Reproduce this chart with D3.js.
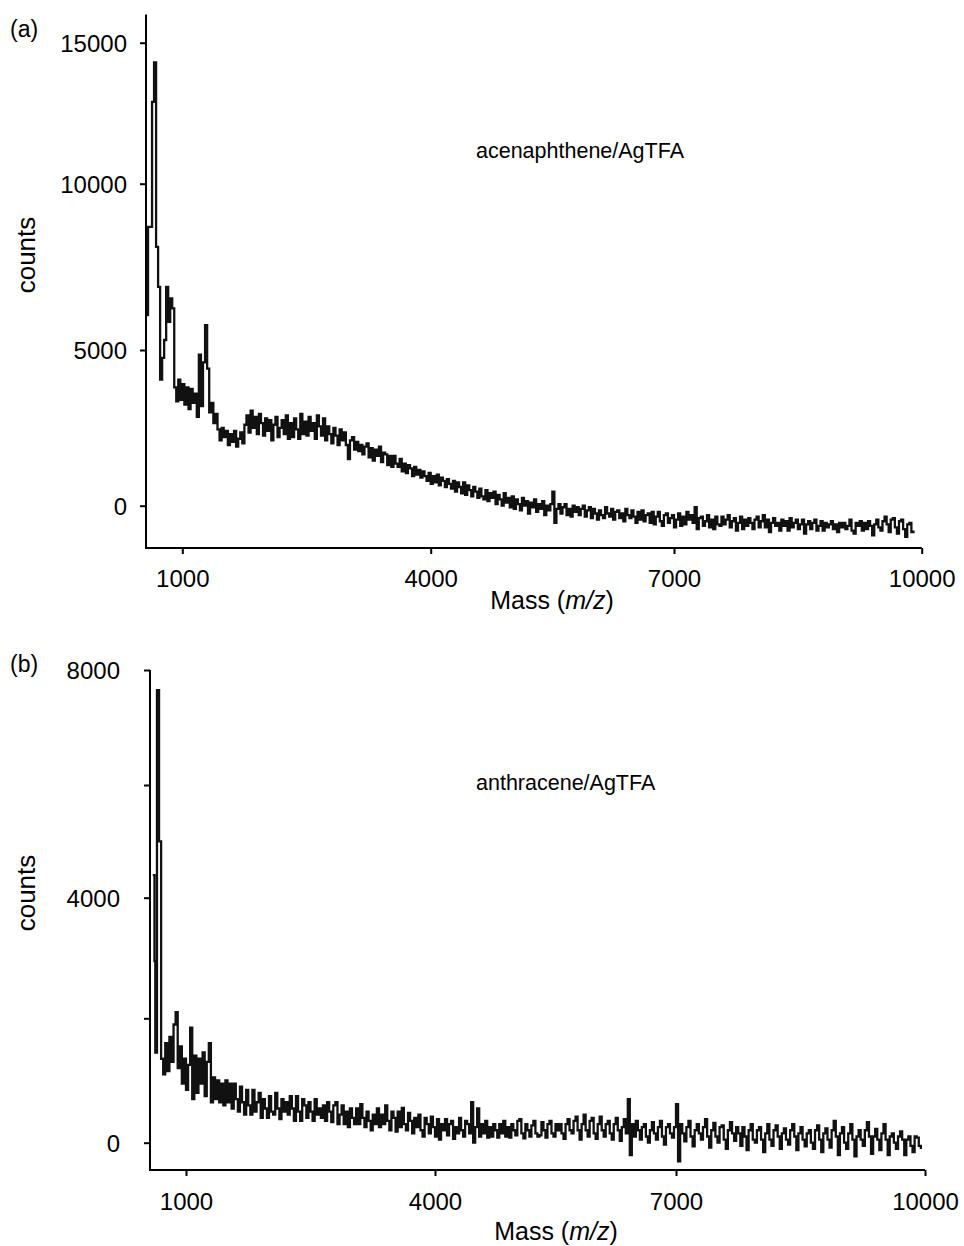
<!DOCTYPE html>
<html>
<head>
<meta charset="utf-8">
<script src="https://cdnjs.cloudflare.com/ajax/libs/d3/7.8.5/d3.min.js"></script>
<style>
  body { margin: 0; background: #fff; }
  svg text { font-family: "Liberation Sans", Arial, Helvetica, sans-serif; fill: #000; }
</style>
</head>
<body>
<div class="chart"></div>
<script>
"use strict";

// (a) acenaphthene/AgTFA -- peaks listed by mass, the rest read every 25 m/z from 1550
var peakMassA = [550,575,600,625,650,675,700,725,750,775,800,825,850,875,900,925,950,975,1000,1025,
                 1050,1075,1100,1125,1150,1175,1200,1225,1250,1275,1300,1325,1350,1375,1400,1425,1450,1475,1500,1525];
var peakCountA = [6050,8700,8700,12900,14300,8100,6900,4050,4750,5300,6900,5850,6550,6250,3800,3350,4050,3400,3900,3250,
                  3800,3100,3750,3300,3600,2850,4850,3200,4600,5750,4400,3000,3300,2650,2950,2450,2100,2500,2200,2400];
var bandStartA = 1550, bandStepA = 25;
var bandCountA = [
  1950,2300,2050,2400,1900,2150,2350,2000,2600,2900,
  2350,3050,2500,2850,2300,2950,2650,2250,2800,2400,
  2750,2100,2600,2850,2200,2500,2750,2300,2900,2150,
  2650,2200,2800,2450,2150,2950,2300,2700,2250,2850,
  2400,2650,2150,2900,2550,2250,2800,2100,2550,2300,
  2000,2500,2250,1950,2450,2100,2350,1950,1500,2100,
  2200,1800,2050,1750,1950,1650,1900,2000,1550,1850,
  1450,1800,1600,1900,1400,1700,1650,1300,1600,1250,
  1600,1350,1250,1500,1100,1350,1050,1300,1200,950,
  1250,1000,1150,900,1100,950,800,1050,700,950,
  750,1000,650,900,800,600,850,700,550,800,
  450,750,600,400,750,350,650,500,300,600,
  450,250,550,300,200,500,150,400,250,450,
  50,350,200,0,400,100,250,-50,300,-100,
  200,50,-150,250,0,150,-250,100,-50,200,
  -200,50,-100,150,-300,0,-150,50,450,-550,
  -100,50,-250,-50,50,-300,-100,-350,0,-200,
  -50,-300,-100,0,-350,-150,-50,-400,-100,-250,
  -450,-150,-300,-400,-50,-250,-350,-100,-450,-200,
  -150,-400,-250,-500,-100,-300,-400,-150,-350,-550,
  -200,-450,-150,-500,-300,-250,-550,-200,-600,-350,
  -200,-500,-650,-300,-250,-550,-400,-300,-700,-450,
  -250,-650,-350,-600,-200,-450,-300,-550,-50,-750,
  -400,-350,-650,-500,-300,-700,-450,-750,-350,-600,
  -650,-350,-600,-450,-300,-700,-500,-400,-800,-550,
  -350,-750,-450,-650,-400,-550,-750,-450,-350,-700,
  -500,-300,-700,-450,-850,-550,-400,-650,-550,-800,
  -450,-650,-500,-800,-400,-700,-550,-450,-750,-600,
  -450,-900,-600,-500,-750,-550,-450,-800,-650,-500,
  -800,-550,-700,-600,-500,-750,-600,-850,-550,-700,
  -550,-750,-650,-450,-800,-900,-550,-650,-500,-800,
  -550,-750,-500,-650,-950,-600,-450,-700,-800,-500,
  -350,-600,-850,-450,-400,-700,-900,-500,-450,-750,
  -1000,-600,-550,-850,-800];

// (b) anthracene/AgTFA
var peakMassB = [600,620,630,650,675,700,725,750,775,800,825,850,875,900,925,950,975,1000,1025,
                 1050,1075,1100,1125,1150,1175,1200,1225,1250,1275,1300,1325,1350,1375,1400,1425,1450,1475,1500,1525];
var peakCountB = [4400,2950,1450,7650,5000,1350,1100,1600,1150,1700,1300,1900,2100,1200,1550,950,1350,850,1250,
                  1850,700,1400,800,1350,950,1450,750,1300,1600,650,1050,700,1000,650,950,600,1000,650,950];
var bandStartB = 1550, bandStepB = 25;
var bandCountB = [
  550,950,700,500,900,650,450,850,600,450,
  850,500,650,800,400,700,550,400,750,500,
  450,800,550,380,700,500,650,450,750,550,
  350,750,500,350,700,600,400,650,500,350,
  700,450,550,400,600,350,650,500,330,600,
  650,300,450,600,300,500,250,550,400,300,
  550,300,620,400,250,500,350,200,450,300,
  550,250,450,300,600,350,200,500,400,180,
  500,250,560,300,200,480,350,150,400,250,
  450,200,100,400,300,150,420,250,100,380,
  50,300,200,380,120,300,350,60,250,150,
  400,200,100,350,300,150,650,0,250,550,
  100,300,150,350,80,250,100,300,200,80,
  300,150,350,100,250,80,300,200,120,350,
  380,150,70,300,200,100,280,350,150,100,
  120,330,200,80,300,350,150,100,300,200,
  300,150,60,300,380,200,150,350,420,200,
  50,300,450,200,100,350,400,150,60,300,
  420,200,100,300,350,150,50,300,400,200,
  30,250,380,150,700,-200,300,100,350,200,
  50,250,300,100,0,200,330,150,50,250,
  350,100,-30,250,300,150,80,250,620,-300,
  300,150,20,250,350,100,-60,200,300,150,
  50,250,380,100,-80,200,320,100,0,250,
  280,50,-100,200,330,150,30,250,150,-50,
  250,100,-120,200,300,50,0,200,250,50,
  -150,150,300,50,-50,200,280,100,-100,150,
  230,50,-30,200,300,100,-120,150,250,50,
  -60,150,200,0,-100,200,280,50,-150,150,
  230,50,-80,200,350,100,-200,150,250,0,
  -100,150,300,50,-220,100,200,50,-50,200,
  330,100,-180,100,220,50,-120,150,300,50,
  -200,100,150,0,-100,100,180,50,-200,50,
  100,-50,-150,100,80,-50,-100];

var xTicks = [1000, 4000, 7000, 10000];

var width = 964,
    height = 1246;

var svg = d3.select(".chart")
          .append("svg")
          .attr("width", width)
          .attr("height", height);

function drawPanel(p) {
  var x = d3.scaleLinear().domain(p.xDomain).range(p.xRange);
  var y = d3.scaleLinear().domain(p.yDomain).range(p.yRange);

  var pts = p.peakMass.map(function(m, i){ return [m, p.peakCount[i]]; })
    .concat(p.bandCount.map(function(c, i){ return [p.bandStart + i * p.bandStep, c]; }));

  var g = svg.append("g");

  // spectrum
  g.append("path")
      .datum(pts)
      .attr("fill", "none")
      .attr("stroke", "#111")
      .attr("stroke-width", 2.3)
      .attr("d", d3.line()
          .curve(d3.curveStepAfter)
          .x(function(d){ return x(d[0]); })
          .y(function(d){ return y(d[1]); }));

  var x0 = p.xDomain[0], x1 = p.xDomain[p.xDomain.length - 1],
      y0 = p.yDomain[0], y1 = p.yDomain[p.yDomain.length - 1];

  // frame lines
  g.append("line")
      .attr("x1", x(x0)).attr("x2", x(x0))
      .attr("y1", y(y0)).attr("y2", y(y1))
      .attr("stroke", "#000").attr("stroke-width", 2);
  g.append("line")
      .attr("x1", x(x0) - 1).attr("x2", x(x1))
      .attr("y1", y(y0)).attr("y2", y(y0))
      .attr("stroke", "#000").attr("stroke-width", 2);

  var yAxis = g.append("g")
      .attr("transform", "translate(" + x(x0) + ",0)")
      .call(d3.axisLeft(y)
          .tickValues(p.yTicks)
          .tickSize(6)
          .tickPadding(p.yPad)
          .tickFormat(function(d){ return p.yLabels.indexOf(d) >= 0 ? d : ""; }));

  var xAxis = g.append("g")
      .attr("transform", "translate(0," + y(y0) + ")")
      .call(d3.axisBottom(x)
          .tickValues(xTicks)
          .tickSize(6)
          .tickPadding(p.xPad)
          .tickFormat(d3.format("d")));

  [yAxis, xAxis].forEach(function(a){
    a.attr("font-family", null).attr("font-size", null);
    a.select(".domain").remove();
    a.selectAll(".tick line").attr("stroke", "#000").attr("stroke-width", 2);
    a.selectAll(".tick text").style("font-size", "24px").attr("fill", "#000");
  });
  yAxis.selectAll(".tick text").attr("dy", "0.36em");

  g.append("text")
      .attr("x", 10).attr("y", p.tagY)
      .style("font-size", "23px")
      .text(p.tag);

  g.append("text")
      .attr("transform", "translate(35," + p.countsY + ") rotate(-90)")
      .attr("text-anchor", "middle")
      .style("font-size", "26px")
      .text("counts");

  var mass = g.append("text")
      .attr("x", p.massX).attr("y", p.massY)
      .attr("text-anchor", "middle")
      .style("font-size", "25px");
  mass.append("tspan").text("Mass (");
  mass.append("tspan").style("font-style", "italic").text("m/z");
  mass.append("tspan").text(")");

  g.append("text")
      .attr("x", 476).attr("y", p.nameY)
      .style("font-size", "21.5px")
      .text(p.name);
}

drawPanel({
  peakMass: peakMassA, peakCount: peakCountA,
  bandStart: bandStartA, bandStep: bandStepA, bandCount: bandCountA,
  xDomain: [550, 1000, 4000, 7000, 10000],
  xRange: [146, 182.3, 430.7, 674, 921.7],
  yDomain: [-1360, 0, 5000, 10000, 15000, 16000],
  yRange: [548, 505.7, 350, 183.7, 42.7, 14.5],
  yTicks: [0, 5000, 10000, 15000],
  yLabels: [0, 5000, 10000, 15000],
  yPad: 13, xPad: 16,
  tag: "(a)", tagY: 37,
  countsY: 255,
  massX: 552, massY: 609,
  name: "acenaphthene/AgTFA", nameY: 158
});

drawPanel({
  peakMass: peakMassB, peakCount: peakCountB,
  bandStart: bandStartB, bandStep: bandStepB, bandCount: bandCountB,
  xDomain: [566, 1000, 4000, 7000, 10000],
  xRange: [150, 186, 435, 676, 925],
  yDomain: [-440, 0, 2000, 4000, 6000, 8000],
  yRange: [1170, 1142.7, 1018.3, 897.7, 785, 670],
  yTicks: [0, 2000, 4000, 6000, 8000],
  yLabels: [0, 4000, 8000],
  yPad: 24, xPad: 17,
  tag: "(b)", tagY: 672,
  countsY: 893,
  massX: 556, massY: 1240,
  name: "anthracene/AgTFA", nameY: 790
});
</script>
</body>
</html>
